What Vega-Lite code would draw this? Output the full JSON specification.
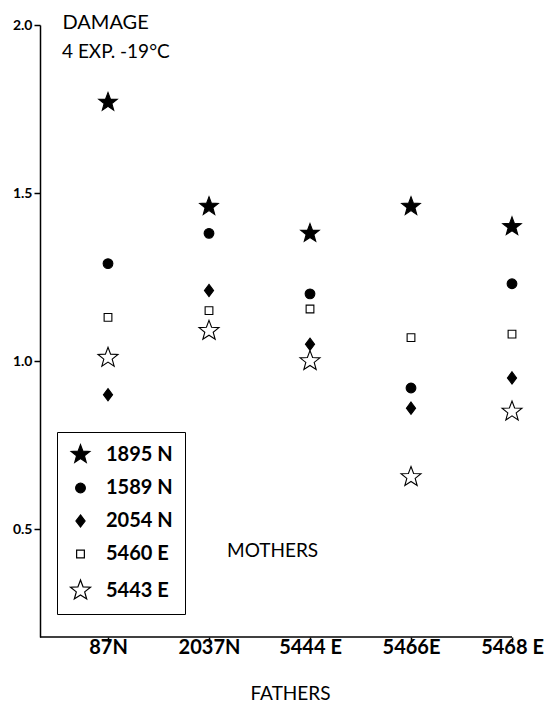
{
  "$schema": "https://vega.github.io/schema/vega-lite/v6.json",
  "autosize": "none",
  "width": 472,
  "height": 612,
  "padding": {"left": 40, "top": 25, "right": 48, "bottom": 71},
  "background": "white",
  "config": {
    "view": {"stroke": null},
    "font": "Lato",
    "axis": {"grid": false, "domainColor": "black", "tickColor": "black", "domainWidth": 1.5, "tickWidth": 1.5, "labelColor": "black", "titleColor": "black", "labelFont": "Lato", "titleFont": "Lato"},
    "legend": {"symbolStrokeColor": "black", "symbolStrokeWidth": 1.2}
  },
  "data": {
    "values": [
      {"mother": "1895 N", "father": "87N", "damage": 1.77},
      {"mother": "1895 N", "father": "2037N", "damage": 1.46},
      {"mother": "1895 N", "father": "5444 E", "damage": 1.38},
      {"mother": "1895 N", "father": "5466E", "damage": 1.46},
      {"mother": "1895 N", "father": "5468 E", "damage": 1.40},
      {"mother": "1589 N", "father": "87N", "damage": 1.29},
      {"mother": "1589 N", "father": "2037N", "damage": 1.38},
      {"mother": "1589 N", "father": "5444 E", "damage": 1.20},
      {"mother": "1589 N", "father": "5466E", "damage": 0.92},
      {"mother": "1589 N", "father": "5468 E", "damage": 1.23},
      {"mother": "2054 N", "father": "87N", "damage": 0.90},
      {"mother": "2054 N", "father": "2037N", "damage": 1.21},
      {"mother": "2054 N", "father": "5444 E", "damage": 1.05},
      {"mother": "2054 N", "father": "5466E", "damage": 0.86},
      {"mother": "2054 N", "father": "5468 E", "damage": 0.95},
      {"mother": "5460 E", "father": "87N", "damage": 1.13},
      {"mother": "5460 E", "father": "2037N", "damage": 1.15},
      {"mother": "5460 E", "father": "5444 E", "damage": 1.155},
      {"mother": "5460 E", "father": "5466E", "damage": 1.07},
      {"mother": "5460 E", "father": "5468 E", "damage": 1.08},
      {"mother": "5443 E", "father": "87N", "damage": 1.01},
      {"mother": "5443 E", "father": "2037N", "damage": 1.09},
      {"mother": "5443 E", "father": "5444 E", "damage": 1.00},
      {"mother": "5443 E", "father": "5466E", "damage": 0.655},
      {"mother": "5443 E", "father": "5468 E", "damage": 0.85}
    ]
  },
  "layer": [
    {
      "data": {"values": [{}]},
      "mark": {"type": "rule", "color": "black", "strokeWidth": 1.5},
      "encoding": {"y": {"datum": 0.179}}
    },
    {
      "mark": {"type": "point", "filled": true, "opacity": 1, "strokeWidth": 1.1},
      "encoding": {
        "x": {
          "field": "father", "type": "nominal", "sort": ["87N", "2037N", "5444 E", "5466E", "5468 E"],
          "scale": {"type": "point", "domain": ["87N", "2037N", "5444 E", "5466E", "5468 E"], "range": [68, 472], "padding": 0},
          "axis": {"title": "FATHERS", "domain": false, "labelAngle": 0, "labelFontSize": 20, "labelFontWeight": "bold", "tickSize": 5, "labelPadding": -5, "titleFontSize": 19, "titleFontWeight": "normal", "titleX": 250, "titleY": 56, "titleBaseline": "middle", "titleAlign": "center"}
        },
        "y": {
          "field": "damage", "type": "quantitative",
          "scale": {"domain": [0.179, 2.0], "nice": false, "zero": false},
          "axis": {"values": [0.5, 1.0, 1.5, 2.0], "format": ".1f", "labelFontSize": 14, "labelFontWeight": "bold", "tickSize": 6, "labelPadding": 2, "title": "DAMAGE", "titleAngle": 0, "titleAlign": "left", "titleBaseline": "alphabetic", "titleX": 22, "titleY": 3, "titleFontSize": 20, "titleFontWeight": "normal"}
        },
        "shape": {
          "field": "mother", "type": "nominal",
          "scale": {"domain": ["1895 N", "1589 N", "2054 N", "5460 E", "5443 E"],
            "range": ["M0,-1L0.247,-0.34L0.951,-0.309L0.399,0.13L0.588,0.809L0,0.42L-0.588,0.809L-0.399,0.13L-0.951,-0.309L-0.247,-0.34Z", "circle", "M0,-1L0.75,0L0,1L-0.75,0Z", "square", "M0,-1L0.247,-0.34L0.951,-0.309L0.399,0.13L0.588,0.809L0,0.42L-0.588,0.809L-0.399,0.13L-0.951,-0.309L-0.247,-0.34Z"]},
          "legend": {"title": null, "orient": "none", "legendX": 17, "legendY": 407, "strokeColor": "black", "padding": 12, "rowPadding": 13, "labelFontSize": 20, "labelFontWeight": "bold", "labelFont": "Lato", "labelColor": "black", "labelOffset": 14, "symbolStrokeColor": "black"}
        },
        "fill": {
          "field": "mother", "type": "nominal",
          "scale": {"domain": ["1895 N", "1589 N", "2054 N", "5460 E", "5443 E"], "range": ["black", "black", "black", "white", "white"]}
        },
        "stroke": {
          "field": "mother", "type": "nominal",
          "scale": {"domain": ["1895 N", "1589 N", "2054 N", "5460 E", "5443 E"], "range": ["black", "black", "black", "black", "black"]}
        },
        "size": {
          "field": "mother", "type": "nominal",
          "scale": {"type": "ordinal", "domain": ["1895 N", "1589 N", "2054 N", "5460 E", "5443 E"], "range": [380, 95, 150, 60, 440]}
        }
      }
    },
    {
      "data": {"values": [{}]},
      "mark": {"type": "text", "text": "4 EXP.  -19°C", "align": "left", "baseline": "middle", "dx": -46, "fontSize": 19, "font": "Lato", "color": "black"},
      "encoding": {"x": {"datum": "87N"}, "y": {"datum": 1.92}}
    },
    {
      "data": {"values": [{}]},
      "mark": {"type": "text", "text": "MOTHERS", "align": "left", "baseline": "middle", "dx": 18, "fontSize": 19, "font": "Lato", "color": "black"},
      "encoding": {"x": {"datum": "2037N"}, "y": {"datum": 0.435}}
    }
  ]
}
